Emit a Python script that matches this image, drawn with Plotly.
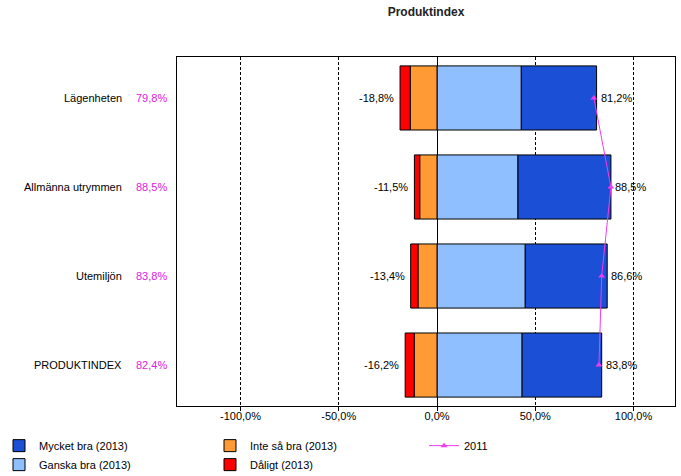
import plotly.graph_objects as go

categories = ["Lägenheten", "Allmänna utrymmen", "Utemiljön", "PRODUKTINDEX"]
mycket_bra_2013 = [38.3, 47.3, 41.7, 40.5]
ganska_bra_2013 = [42.9, 41.2, 44.9, 43.3]
inte_sa_bra_2013 = [13.6, 8.8, 9.7, 11.6]
daligt_2013 = [5.2, 2.7, 3.7, 4.6]
values_2011 = [79.8, 88.5, 83.8, 82.4]
tick_values = [-100, -50, 0, 50, 100]

FONT = "Liberation Sans, Arial, sans-serif"
W, H = 681, 476
L, R, T, B = 177, 6, 57, 70
PW = W - L - R


def fmt(v):
    return f"{v:.1f}".replace(".", ",") + "%"


def px_to_paper_x(px):
    return (px - L) / PW


fig = go.Figure()

bar_line = dict(color="black", width=1)
fig.add_trace(go.Bar(y=categories, x=ganska_bra_2013, orientation="h", name="Ganska bra (2013)",
                     marker=dict(color="#8FBFFF", line=bar_line), width=0.72, legend="legend", legendrank=2))
fig.add_trace(go.Bar(y=categories, x=mycket_bra_2013, orientation="h", name="Mycket bra (2013)",
                     marker=dict(color="#1B4FD5", line=bar_line), width=0.72, legend="legend", legendrank=1))
fig.add_trace(go.Bar(y=categories, x=[-v for v in inte_sa_bra_2013], orientation="h", name="Inte så bra (2013)",
                     marker=dict(color="#FF9A35", line=bar_line), width=0.72, legend="legend2", legendrank=3))
fig.add_trace(go.Bar(y=categories, x=[-v for v in daligt_2013], orientation="h", name="Dåligt (2013)",
                     marker=dict(color="#FF0000", line=bar_line), width=0.72, legend="legend2", legendrank=4))
fig.add_trace(go.Scatter(y=categories, x=values_2011, mode="lines+markers", name="2011",
                         line=dict(color="#F03CF0", width=1),
                         marker=dict(symbol="triangle-up", size=6, color="#F03CF0"),
                         legend="legend3", legendrank=5))

annotations = []
for i, cat in enumerate(categories):
    pos = mycket_bra_2013[i] + ganska_bra_2013[i]
    neg = inte_sa_bra_2013[i] + daligt_2013[i]
    annotations.append(dict(x=pos, y=cat, xref="x", yref="y", text=fmt(pos), showarrow=False,
                            xanchor="left", xshift=2, font=dict(size=11, color="black", family=FONT)))
    annotations.append(dict(x=-neg, y=cat, xref="x", yref="y", text="-" + fmt(neg), showarrow=False,
                            xanchor="right", xshift=-4, font=dict(size=11, color="black", family=FONT)))
    annotations.append(dict(x=px_to_paper_x(124), y=cat, xref="paper", yref="y", text=cat, showarrow=False,
                            xanchor="right", font=dict(size=11, color="black", family=FONT)))
    annotations.append(dict(x=px_to_paper_x(169), y=cat, xref="paper", yref="y", text=fmt(values_2011[i]),
                            showarrow=False, xanchor="right", font=dict(size=11, color="#E020E0", family=FONT)))

legend_common = dict(orientation="v", yanchor="top", xanchor="left", y=-0.072,
                     font=dict(size=11, color="black", family=FONT), bgcolor="rgba(0,0,0,0)",
                     tracegroupgap=0, itemwidth=30, traceorder="normal")

fig.update_layout(
    width=W, height=H,
    margin=dict(l=L, r=R, t=T, b=B, autoexpand=False),
    paper_bgcolor="white", plot_bgcolor="white",
    barmode="relative",
    separators=", ",
    font=dict(family=FONT, size=11, color="black"),
    title=dict(text="<b>Produktindex</b>", x=0.5, xref="paper", xanchor="center",
               y=1 - 12 / H, yref="container", yanchor="middle",
               font=dict(size=12, color="#222222", family=FONT)),
    xaxis=dict(range=[-132.3, 121.1], tickvals=tick_values, ticktext=[fmt(v) for v in tick_values],
               showgrid=True, gridcolor="black", gridwidth=1, griddash="3px,2px",
               zeroline=True, zerolinecolor="black", zerolinewidth=1,
               showline=True, linecolor="black", linewidth=1, mirror=True,
               ticks="outside", ticklen=4, tickcolor="black", ticklabelstandoff=-4,
               tickfont=dict(size=11, color="black", family=FONT), fixedrange=True),
    yaxis=dict(type="category", range=[3.46, -0.46], showticklabels=False, ticks="",
               showgrid=False, zeroline=False,
               showline=True, linecolor="black", linewidth=1, mirror=True, fixedrange=True),
    annotations=annotations,
    legend=dict(x=px_to_paper_x(-1), **legend_common),
    legend2=dict(x=px_to_paper_x(210), **legend_common),
    legend3=dict(x=px_to_paper_x(424), **legend_common),
    showlegend=True,
)

fig.write_html("out.html", config={"displayModeBar": False},
               post_script="document.body.style.margin='0';document.body.style.padding='0';")
